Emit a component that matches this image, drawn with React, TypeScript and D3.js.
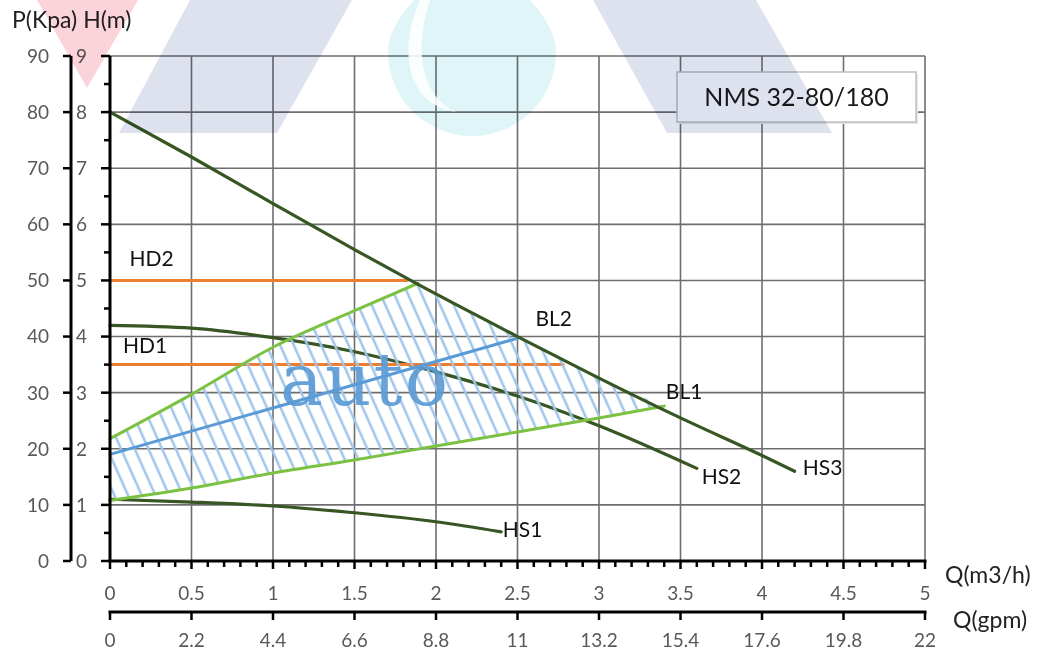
import * as d3 from "d3";

// flow (m3/h) and head (m)
const hs3Q = [0, 0.5, 1, 1.5, 1.87, 2.5, 3, 3.5, 4, 4.2];
const hs3H = [8, 7.2, 6.37, 5.55, 4.96, 4.0, 3.26, 2.55, 1.88, 1.6];
const hs2Q = [0, 0.5, 1, 1.5, 2, 2.5, 3, 3.6];
const hs2H = [4.2, 4.15, 3.98, 3.73, 3.37, 2.94, 2.41, 1.65];
const hs1Q = [0, 0.5, 1, 1.5, 2, 2.4];
const hs1H = [1.1, 1.05, 0.98, 0.86, 0.7, 0.52];
const upperQ = [0, 0.5, 1, 1.5, 1.89];
const upperH = [2.18, 2.97, 3.81, 4.46, 4.95];
const lowerQ = [0, 0.5, 1, 1.5, 2, 2.5, 3, 3.4];
const lowerH = [1.08, 1.3, 1.57, 1.8, 2.05, 2.3, 2.55, 2.76];
const bl2Q = [0, 2.5];
const bl2H = [1.9, 3.97];
const hd2Q = [0, 1.82];
const hd2H = [5, 5];
const hd1Q = [0, 2.78];
const hd1H = [3.5, 3.5];

const qTicks = [0, 0.5, 1, 1.5, 2, 2.5, 3, 3.5, 4, 4.5, 5];
const gpmTicks = [0, 2.2, 4.4, 6.6, 8.8, 11, 13.2, 15.4, 17.6, 19.8, 22];
const hTicks = [0, 1, 2, 3, 4, 5, 6, 7, 8, 9];
const pTicks = [0, 10, 20, 30, 40, 50, 60, 70, 80, 90];

const labels = [
  { text: "HD2", q: 0.12, h: 5.25 },
  { text: "HD1", q: 0.08, h: 3.7 },
  { text: "BL2", q: 2.61, h: 4.18 },
  { text: "BL1", q: 3.41, h: 2.88 },
  { text: "HS2", q: 3.63, h: 1.37 },
  { text: "HS3", q: 4.25, h: 1.53 },
  { text: "HS1", q: 2.41, h: 0.43 },
];

const x = d3.scaleLinear().domain([0, 5]).range([110, 925]);
const xg = d3.scaleLinear().domain([0, 22]).range([110, 925]);
const y = d3.scaleLinear().domain([0, 9]).range([561, 56]);
const yp = d3.scaleLinear().domain([0, 90]).range([561, 56]);

const zip = (qs: number[], hs: number[]) => qs.map((q, i) => [q, hs[i]] as [number, number]);

const smooth = d3
  .line<[number, number]>()
  .x((d) => x(d[0]))
  .y((d) => y(d[1]))
  .curve(d3.curveMonotoneX);
const straight = d3
  .line<[number, number]>()
  .x((d) => x(d[0]))
  .y((d) => y(d[1]));

const FONT = "Lato, 'Open Sans', sans-serif";
const DARK = "#375623";
const LIGHT = "#7cc242";
const BLUE = "#5b9bd5";
const ORANGE = "#ed7d31";

export default function App() {
  const upper = zip(upperQ, upperH);
  const lower = zip(lowerQ, lowerH);
  const hs3 = zip(hs3Q, hs3H);
  const last = upper[upper.length - 1][0];
  const end = lower[lower.length - 1][0];
  const area = [
    ...upper,
    ...hs3.filter((d) => d[0] > last && d[0] < end),
    ...lower.slice().reverse(),
  ];

  const minor = d3.range(0, 50.5).map((i) => i / 10);
  const halfH = d3.range(0, 9).map((i) => i + 0.5);

  return (
    <svg
      width={1042}
      height={653}
      style={{ position: "absolute", left: 0, top: 0, background: "#fff" }}
      fontFamily={FONT}
    >
      <defs>
        <pattern id="hatch" width={12.5} height={14} patternUnits="userSpaceOnUse" patternTransform="rotate(-24)">
          <line x1={3} y1={0} x2={3} y2={14} stroke="#9fc5ea" strokeWidth={2.5} />
        </pattern>
      </defs>

      {/* grid */}
      <g stroke="#6e6e6e" strokeWidth={1.6}>
        {qTicks.slice(1).map((t) => (
          <line key={"v" + t} x1={x(t)} x2={x(t)} y1={y(0)} y2={y(9)} />
        ))}
        {hTicks.slice(1).map((t) => (
          <line key={"h" + t} x1={x(0)} x2={x(5)} y1={y(t)} y2={y(t)} />
        ))}
      </g>

      {/* curves under the hatch */}
      <g fill="none" strokeLinecap="round">
        <path d={smooth(zip(hs2Q, hs2H)) ?? ""} stroke={DARK} strokeWidth={3.2} />
        <path d={smooth(zip(hs1Q, hs1H)) ?? ""} stroke={DARK} strokeWidth={3.2} />
        <path d={straight(zip(hd1Q, hd1H)) ?? ""} stroke={ORANGE} strokeWidth={3} />
        <path d={straight(zip(hd2Q, hd2H)) ?? ""} stroke={ORANGE} strokeWidth={3} />
      </g>

      <path d={(straight(area) ?? "") + "Z"} fill="url(#hatch)" />

      <g fill="none" strokeLinecap="round">
        <path d={smooth(upper) ?? ""} stroke={LIGHT} strokeWidth={3} />
        <path d={smooth(lower) ?? ""} stroke={LIGHT} strokeWidth={3} />
        <path d={straight(zip(bl2Q, bl2H)) ?? ""} stroke={BLUE} strokeWidth={3} />
        <path d={smooth(hs3) ?? ""} stroke={DARK} strokeWidth={3.2} />
      </g>

      {/* left axes */}
      <g stroke="#000">
        <line x1={71} x2={71} y1={yp(0)} y2={yp(90)} strokeWidth={3} />
        {pTicks.map((t) => (
          <line key={"pt" + t} x1={63} x2={71} y1={yp(t)} y2={yp(t)} strokeWidth={2.5} />
        ))}
        <line x1={x(0)} x2={x(0)} y1={y(0) + 1} y2={y(9)} strokeWidth={3} />
        {hTicks.map((t) => (
          <line key={"ht" + t} x1={101} x2={110} y1={y(t)} y2={y(t)} strokeWidth={2.5} />
        ))}
        {halfH.map((t) => (
          <line key={"hm" + t} x1={104} x2={110} y1={y(t)} y2={y(t)} strokeWidth={2.5} />
        ))}
      </g>
      <g fontSize={19} fill="#595959">
        {pTicks.map((t) => (
          <text key={"pl" + t} x={49} y={yp(t)} dy="0.36em" textAnchor="end">
            {t}
          </text>
        ))}
        {hTicks.map((t) => (
          <text key={"hl" + t} x={76} y={y(t)} dy="0.36em">
            {t}
          </text>
        ))}
      </g>

      {/* bottom axes */}
      <g stroke="#000">
        <line x1={x(0) - 1.5} x2={x(5) + 1.5} y1={y(0)} y2={y(0)} strokeWidth={3} />
        {minor.map((t) => (
          <line
            key={"qm" + t}
            x1={x(t)}
            x2={x(t)}
            y1={y(0)}
            y2={y(0) + (Math.abs((t * 2) % 1) < 1e-6 ? 8 : 6)}
            strokeWidth={2.5}
          />
        ))}
        <line x1={xg(0) - 1.5} x2={xg(22) + 1.5} y1={612} y2={612} strokeWidth={3} />
        {gpmTicks.map((t) => (
          <line key={"gt" + t} x1={xg(t)} x2={xg(t)} y1={612} y2={620} strokeWidth={2.5} />
        ))}
      </g>
      <g fontSize={19} fill="#595959" textAnchor="middle">
        {qTicks.map((t) => (
          <text key={"ql" + t} x={x(t)} y={600}>
            {t}
          </text>
        ))}
        {gpmTicks.map((t) => (
          <text key={"gl" + t} x={xg(t)} y={647}>
            {t}
          </text>
        ))}
      </g>

      {/* axis titles */}
      <g fontSize={23} fill="#222">
        <text x={12} y={28}>P(Kpa) H(m)</text>
        <text x={945} y={583}>Q(m3/h)</text>
        <text x={953} y={628}>Q(gpm)</text>
      </g>

      {/* curve labels */}
      <g fontSize={21} fill="#111">
        {labels.map((l) => (
          <text key={l.text} x={x(l.q)} y={y(l.h)}>
            {l.text}
          </text>
        ))}
      </g>

      {/* model box */}
      <rect x={679} y={74} width={239} height={50} fill="#e6e6e6" />
      <rect x={677} y={72} width={239} height={50} fill="#fff" stroke="#c0c0c0" strokeWidth={1.5} />
      <text x={796.5} y={106} fontSize={25} fill="#1a1a1a" textAnchor="middle">
        NMS 32-80/180
      </text>

      {/* watermark */}
      <g style={{ mixBlendMode: "multiply" }}>
        <polygon points="37,0 138,0 87,88" fill="#fad4da" />
        <polygon points="190,0 352,0 277,133 119,133" fill="#dde2ee" />
        <polygon points="593,0 756,0 832,133 667,133" fill="#dde2ee" />
        <path d="M472,-70 C500,-20 556,10 556,52 A84,84 0 0 1 388,52 C388,10 444,-20 472,-70Z" fill="#e0f5f8" />
      </g>
      <path d="M420,0 C398,50 406,104 456,112 C424,98 412,55 430,0Z" fill="#fff" opacity={0.85} />
      <text
        x={280}
        y={405}
        fontSize={72}
        fontFamily="'DejaVu Serif', serif"
        fill={BLUE}
        opacity={0.92}
        textLength={168}
        lengthAdjust="spacing"
      >
        auto
      </text>
    </svg>
  );
}
